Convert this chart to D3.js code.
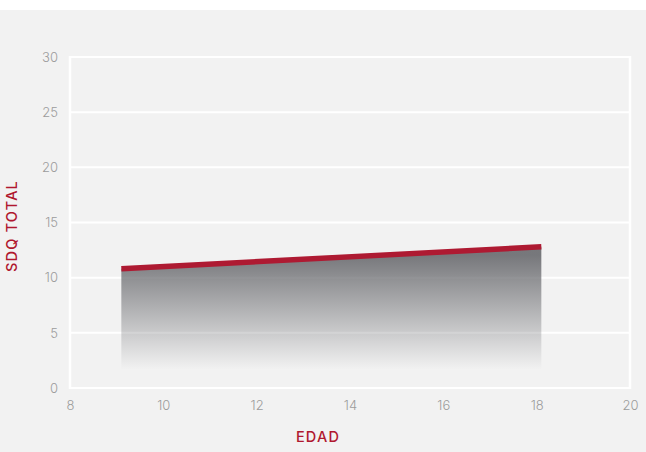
<!DOCTYPE html>
<html>
<head>
<meta charset="utf-8">
<script src="https://cdn.jsdelivr.net/npm/d3@7/dist/d3.min.js"></script>
<style>
  html, body { margin: 0; padding: 0; background: #ffffff; }
  svg { display: block; }
  text { font-family: Inter, "Open Sans", sans-serif; }
</style>
</head>
<body>
<svg id="chart" width="646" height="452"></svg>
<script>
// Mean SDQ total score by age (EDAD)
const ages = [9.1, 18.1];
const sdqTotal = [10.8, 12.8];
const xTicks = [8, 10, 12, 14, 16, 18, 20];
const yTicks = [0, 5, 10, 15, 20, 25, 30];
const xTitle = "EDAD";
const yTitle = "SDQ TOTAL";

const W = 646, H = 452;
const margin = { top: 57, right: 16, bottom: 64, left: 70 };
const svg = d3.select("#chart");

// page background: white band on top, light gray panel below
svg.append("rect").attr("x", 0).attr("y", 0).attr("width", W).attr("height", H).attr("fill", "#ffffff");
svg.append("rect").attr("x", 0).attr("y", 10).attr("width", W).attr("height", H - 10).attr("fill", "#f2f2f2");

const x = d3.scaleLinear().domain([8, 20]).range([margin.left, W - margin.right]);
const y = d3.scaleLinear().domain([0, 30]).range([H - margin.bottom, margin.top]);

const points = ages.map((a, i) => ({ age: a, v: sdqTotal[i] }));

// gradient for the shaded area under the line
const defs = svg.append("defs");
const grad = defs.append("linearGradient")
  .attr("id", "areaFade")
  .attr("gradientUnits", "userSpaceOnUse")
  .attr("x1", 0).attr("x2", 0)
  .attr("y1", y(d3.max(sdqTotal))).attr("y2", y(0));
grad.append("stop").attr("offset", 0.06).attr("stop-color", "#6c6d71").attr("stop-opacity", 1);
grad.append("stop").attr("offset", 0.87).attr("stop-color", "#6c6d71").attr("stop-opacity", 0);

// grid and frame
const grid = svg.append("g");
grid.selectAll("line.h").data(yTicks).join("line")
  .attr("x1", x(8)).attr("x2", x(20))
  .attr("y1", d => y(d)).attr("y2", d => y(d))
  .attr("stroke", "#ffffff").attr("stroke-width", 2);
grid.selectAll("line.v").data([8, 20]).join("line")
  .attr("x1", d => x(d)).attr("x2", d => x(d))
  .attr("y1", y(30) - 1).attr("y2", y(0) + 1)
  .attr("stroke", "#ffffff").attr("stroke-width", 2.5);

// shaded area
const area = d3.area().x(d => x(d.age)).y0(y(0)).y1(d => y(d.v));
svg.append("path").datum(points)
  .attr("d", area)
  .attr("fill", "url(#areaFade)")
  .attr("opacity", 0.92);

// trend line
const line = d3.line().x(d => x(d.age)).y(d => y(d.v));
svg.append("path").datum(points)
  .attr("d", line)
  .attr("fill", "none")
  .attr("stroke", "#ae1a32")
  .attr("stroke-width", 5.5);

// axes (labels only)
const xAxis = d3.axisBottom(x).tickValues(xTicks).tickSize(0).tickPadding(13);
const gx = svg.append("g").attr("transform", `translate(0,${y(0)})`).call(xAxis);
const yAxis = d3.axisLeft(y).tickValues(yTicks).tickSize(0).tickPadding(12);
const gy = svg.append("g").attr("transform", `translate(${x(8)},0)`).call(yAxis);
[gx, gy].forEach(g => {
  g.select(".domain").remove();
  g.selectAll("text")
    .attr("fill", "#9c9c9c")
    .style("font-size", "13px")
    .style("font-weight", "300")
    .style("font-family", "Inter, 'Open Sans', sans-serif");
});

// axis titles
svg.append("text")
  .attr("x", 318).attr("y", 442)
  .attr("text-anchor", "middle")
  .attr("fill", "#b0182f")
  .style("font-size", "14.5px")
  .style("font-weight", "500")
  .style("letter-spacing", "1.2px")
  .text(xTitle);

svg.append("text")
  .attr("transform", "translate(17,226) rotate(-90)")
  .attr("text-anchor", "middle")
  .attr("fill", "#b0182f")
  .style("font-size", "14.5px")
  .style("font-weight", "500")
  .style("letter-spacing", "1.2px")
  .text(yTitle);
</script>
</body>
</html>
